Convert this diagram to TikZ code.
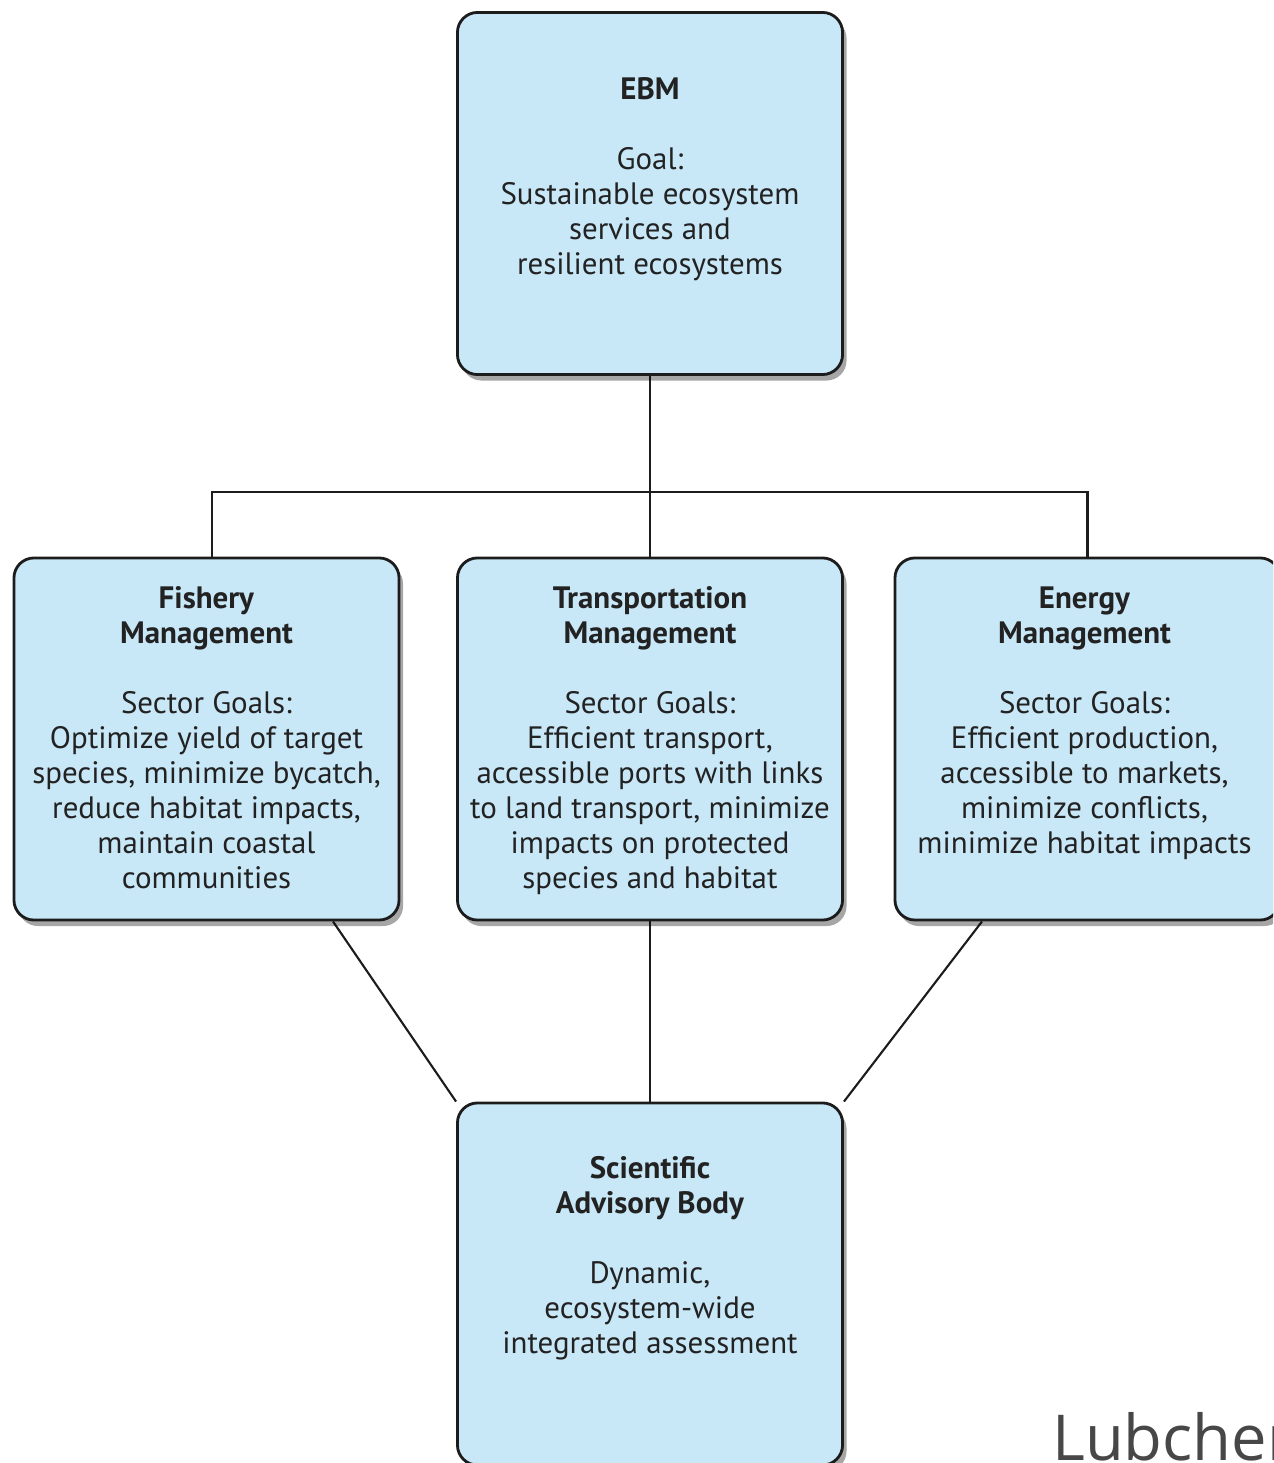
\documentclass[tikz,border=0pt]{standalone}
\usepackage{fontspec}
\setmainfont{PT Sans}
\newfontfamily\creditfont{Open Sans}
\usetikzlibrary{calc,positioning,shadows,backgrounds}

\definecolor{boxblue}{RGB}{200,231,247}
\definecolor{edge}{RGB}{28,28,28}
\definecolor{ink}{RGB}{34,34,34}

\begin{document}
\begin{tikzpicture}[x=0.025cm,y=-0.025cm,
    box/.style={draw=edge, line width=2pt, fill=boxblue, rounded corners=5mm,
      minimum width=9.625cm, minimum height=9.05cm,
      drop shadow={shadow xshift=1mm, shadow yshift=-1.5mm, fill=black, opacity=0.35}},
    txt/.style={align=center, text=ink, font=\fontsize{22}{24.9}\selectfont},
    link/.style={draw=edge, line width=1.5pt}]

     \useasboundingbox (0,0) rectangle (1273,1463);
     \clip (0,0) rectangle (1273,1463);

     % boxes
     \node[box] (ebm) at (650,193.5) {};
     \node[box] (fish) at (206.5,739) {};
     \node[box] (trans) at (650,739) {};
     \node[box] (energy) at (1087.5,739) {};
     \node[box] (sci) at (650,1284) {};

     % texts
     \node[txt] (ebmtxt) at ($(ebm)+(0,-14)$) {\textbf{EBM}\\[24.9pt]Goal:\\Sustainable ecosystem\\services and\\resilient ecosystems};
     \node[txt] (fishtxt) at ($(fish)+(0,-1)$) {\textbf{Fishery}\\\textbf{Management}\\[24.9pt]Sector Goals:\\Optimize yield of target\\species, minimize bycatch,\\reduce habitat impacts,\\maintain coastal\\communities};
     \node[txt] (transtxt) at ($(trans)+(0,2)$) {\textbf{Transportation}\\\textbf{Management}\\[24.9pt]Sector Goals:\\Efficient transport,\\accessible ports with links\\to land transport, minimize\\impacts on protected\\species and habitat};
     \node[txt] (energytxt) at ($(energy)+(-3,-15.5)$) {\textbf{Energy}\\\textbf{Management}\\[24.9pt]Sector Goals:\\Efficient production,\\accessible to markets,\\minimize conflicts,\\minimize habitat impacts};
     \node[txt] (scitxt) at ($(sci)+(0,-25.5)$) {\textbf{Scientific}\\\textbf{Advisory Body}\\[24.9pt]Dynamic,\\ecosystem-wide\\integrated assessment};

     \node[font=\creditfont\fontsize{45}{48}\selectfont, text=black!72, anchor=base west, inner sep=0pt] (credit) at (1052,1460) {Lubchen};

     \coordinate (bus) at (650,492);

     \begin{scope}[on background layer]
     \draw[link] (ebm) -- (trans);
     \draw[link] ($(fish.north)+(5.5,0)$) |- (bus) -| (energy.north);
     \draw[link] ($(fish.south)+(126.5,0)$) -- (sci.north west);
     \draw[link] (trans) -- (sci);
     \draw[link] ($(energy.south)+(-105.5,0)$) -- (sci.north east);
     \end{scope}

\end{tikzpicture}
\end{document}
